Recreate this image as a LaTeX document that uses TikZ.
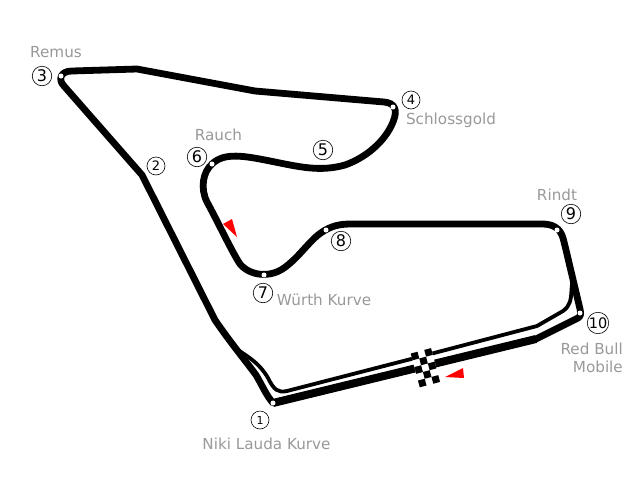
\documentclass[tikz,border=0pt]{standalone}
\usepackage{fontspec}
\setmainfont{DejaVu Sans}
\definecolor{lbl}{HTML}{999999}
\tikzset{
  trackline/.style={line width=6.8pt,line join=round,line cap=round},
  pitline/.style={line width=3.8pt,line join=round},
  turnno/.style={circle,draw,line width=0.6pt,minimum size=19.5pt,inner sep=0pt,font=\fontsize{16}{16}\selectfont},
  cornername/.style={text=lbl,inner sep=0pt,font=\fontsize{15.2}{18}\selectfont},
  turndot/.style={fill=white},
  dirmark/.style={fill=red}
}
\begin{document}
\begin{tikzpicture}[x=1pt,y=-1pt]
\useasboundingbox (0,0) rectangle (640,480);
% pit lane
\draw[pitline] (238,350) .. controls (250,358) and (260,364) .. (268,378)
  .. controls (274,390) and (278,393) .. (287,391)
  -- (415,358) -- (537,326) -- (563,311)
  .. controls (570,306) and (571,300) .. (571.5,290) -- (573,272);
% main track
\draw[trackline] (273,403) -- (536,339) -- (578,318)
  .. controls (581,316) and (581,314) .. (580,309)
  -- (566,250) -- (563,238)
  .. controls (560,228) and (553,224) .. (542,224)
  -- (350,224)
  .. controls (336,224) and (327,228) .. (318,235)
  .. controls (308,243) and (298,258) .. (284,268)
  .. controls (270,278) and (250,276) .. (240,264)
  .. controls (232,252) and (218,222) .. (207,202)
  .. controls (200,188) and (203,172) .. (212,164)
  .. controls (224,152) and (245,156) .. (270,161)
  .. controls (300,167) and (320,172) .. (345,165)
  .. controls (365,158) and (385,142) .. (393,122)
  .. controls (398,110) and (395,103) .. (384,102)
  -- (255,91) -- (137,69) -- (72,71)
  .. controls (60,71) and (58,80) .. (64,86)
  -- (142,175) -- (215,320)
  .. controls (230,342) and (245,360) .. (256,375)
  .. controls (262,385) and (266,395) .. (273,403) -- cycle;
\draw[trackline,line width=8pt,line cap=butt] (273,403) -- (536,339);
% chequered line
\begin{scope}[shift={(415,356)},x={(6.76pt,1.81pt)},y={(1.81pt,-6.76pt)}]
  \fill[white] (-0.5,-0.5) -- (2.5,-0.5) -- (2.5,4.5) -- (-0.5,4.5) -- cycle;
  \foreach \c/\r in {0/0,2/0,1/1,0/2,2/2,1/3,0/4,2/4}
    \fill (\c-0.5,\r-0.5) -- (\c+0.5,\r-0.5) -- (\c+0.5,\r+0.5) -- (\c-0.5,\r+0.5) -- cycle;
\end{scope}
% direction marks
\fill[dirmark] (445,377) -- (463,368) -- (464,378) -- cycle;
\fill[dirmark] (223,224) -- (232,219) -- (237,237) -- cycle;
% turn points
\foreach \p in {(273,403),(580,313),(557,230),(326,230),(264,275),(212,164),(393,107),(61,76)}
  \fill[turndot] \p circle (2.5);
% turn numbers
\node[turnno,minimum size=18pt,font=\fontsize{11}{11}\selectfont] (t1) at (260,420) {1};
\node[turnno,minimum size=18pt,font=\fontsize{13}{13}\selectfont] (t2) at (156,166) {2};
\node[turnno] (t3) at (42,76) {3};
\node[turnno,minimum size=18pt,font=\fontsize{13}{13}\selectfont] (t4) at (411,100) {4};
\node[turnno] (t5) at (323,150) {5};
\node[turnno] (t6) at (197,157) {6};
\node[turnno] (t7) at (263,293) {7};
\node[turnno] (t8) at (341,241) {8};
\node[turnno] (t9) at (571,214) {9};
\node[turnno,font=\fontsize{14.5}{14.5}\selectfont] (t10) at (598,323) {10};
% corner names
\node[cornername] (remus) at (56,52) {Remus};
\node[cornername] (rauch) at (218.5,135) {Rauch};
\node[cornername] (schloss) at (451,120) {Schlossgold};
\node[cornername] (rindt) at (557,195) {Rindt};
\node[cornername] (wurth) at (324,300) {Würth Kurve};
\node[cornername,align=right,anchor=east] (rbm) at (623,358) {Red Bull\\Mobile};
\node[cornername] (niki) at (266.5,444) {Niki Lauda Kurve};
\end{tikzpicture}
\end{document}
